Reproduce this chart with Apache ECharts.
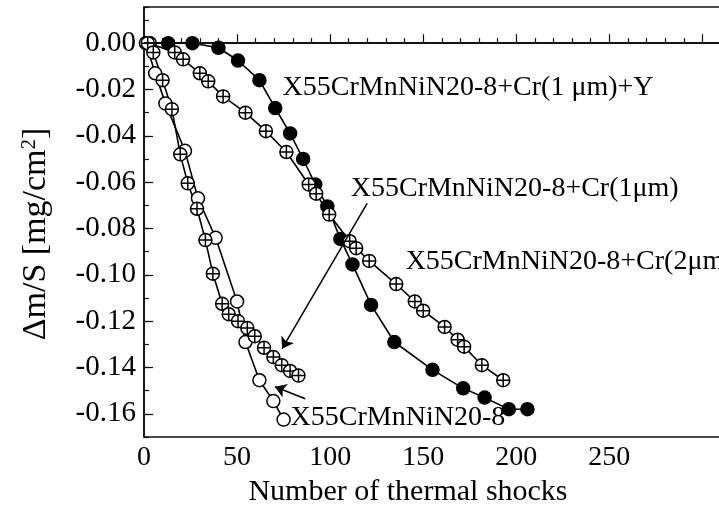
<!DOCTYPE html>
<html lang="en">
<head>
    <meta charset="UTF-8">
    <title>thermal shocks</title>
    <script type="text/javascript" src="https://cdn.jsdelivr.net/npm/echarts@6/dist/echarts.min.js"></script>
    <style>
        html, body { margin: 0; padding: 0; background: #fff; }
        #main { width: 719px; height: 514px; }
    </style>
</head>
<body>
<div id="main"></div>
<script type="text/javascript">
    // Cr(1 um)+Y coating - filled circles
    var crYX = [3, 13, 26, 40, 50.5, 62, 70.5, 78.5, 85.5, 92, 98.5, 105.5, 112, 122, 134.5, 155, 171.5, 183, 196, 206];
    var crYY = [0, 0, 0, -0.002, -0.0075, -0.016, -0.028, -0.039, -0.050, -0.061, -0.0705, -0.0845, -0.0955, -0.113, -0.129, -0.141, -0.149, -0.153, -0.158, -0.158];
    // Cr(2 um) coating - crossed circles
    var cr2X = [3, 16.5, 21, 30, 34.5, 42.5, 54.5, 65.5, 76.5, 88.5, 92.5, 99.5, 110.5, 114, 121, 135.5, 145.5, 150, 161.5, 168.5, 172, 181.5, 193];
    var cr2Y = [0, -0.004, -0.007, -0.013, -0.0165, -0.023, -0.030, -0.038, -0.047, -0.061, -0.065, -0.074, -0.0855, -0.0885, -0.094, -0.104, -0.1115, -0.1155, -0.1225, -0.128, -0.131, -0.139, -0.1455];
    // Cr(1 um) coating - crossed circles
    var cr1X = [2, 5, 10, 15, 19.5, 23.5, 28.5, 33, 37, 42, 45.5, 50.5, 55.5, 59.5, 64.5, 69.5, 74, 78.5, 83];
    var cr1Y = [0, -0.004, -0.016, -0.0285, -0.048, -0.0605, -0.0715, -0.085, -0.0995, -0.1125, -0.117, -0.12, -0.123, -0.1265, -0.1315, -0.1355, -0.139, -0.1415, -0.1435];
    // uncoated steel - open circles
    var bareX = [1, 6, 11.5, 22, 29, 38.5, 50, 54.5, 62, 69.5, 75];
    var bareY = [0, -0.013, -0.026, -0.0465, -0.067, -0.084, -0.1115, -0.129, -0.1455, -0.1545, -0.1625];

    var yTicks = [0, -0.02, -0.04, -0.06, -0.08, -0.10, -0.12, -0.14, -0.16];

    // annotation texts and their anchors (data coords, left edge / middle)
    var noteText = ['X55CrMnNiN20-8+Cr(1 \u03bcm)+Y', 'X55CrMnNiN20-8+Cr(1\u03bcm)', 'X55CrMnNiN20-8+Cr(2\u03bcm)', 'X55CrMnNiN20-8'];
    var noteX = [74.2, 110.8, 140.3, 78.5];
    var noteY = [-0.019, -0.0627, -0.0943, -0.1617];
    // arrows: start -> tip
    var arrowFrom = [[119.9, -0.0692], [86.6, -0.1535]];
    var arrowTo = [[74.2, -0.1319], [70.4, -0.1483]];

    function pairs(xs, ys) {
        var out = [];
        for (var i = 0; i < xs.length; i++) { out.push([xs[i], ys[i]]); }
        return out;
    }

    var serif = 'Liberation Serif';
    var crossCircle = 'path://M0,-10A10,10,0,1,1,0,10A10,10,0,1,1,0,-10ZM-10,0L10,0M0,-10L0,10';

    var notes = [];
    for (var i = 0; i < noteText.length; i++) {
        notes.push({value: [noteX[i], noteY[i]], name: noteText[i]});
    }
    var arrows = [];
    for (var j = 0; j < arrowFrom.length; j++) {
        arrows.push({coords: [arrowFrom[j], arrowTo[j]]});
    }

    function lineSeries(name, data, symbol, fill) {
        return {
            name: name,
            type: 'line',
            data: data,
            symbol: symbol,
            symbolSize: 13,
            showAllSymbol: true,
            lineStyle: {color: '#000', width: 1.6},
            itemStyle: {color: fill, borderColor: '#000', borderWidth: 1.5},
            z: 3
        };
    }

    var option = {
        animation: false,
        backgroundColor: '#fff',
        grid: {left: 144, top: 7, width: 577, bottom: 77, outerBoundsMode: 'none',
            show: true, borderColor: '#111', borderWidth: 1.6},
        xAxis: {
            type: 'value', min: 0, max: 310, interval: 50,
            name: 'Number of thermal shocks', nameLocation: 'middle', nameGap: 38,
            nameTextStyle: {fontFamily: serif, fontSize: 30, color: '#000', padding: [0, 49, 0, 0]},
            axisLine: {lineStyle: {color: '#111', width: 1.6}},
            axisTick: {inside: true, length: 9, lineStyle: {color: '#111', width: 1.2}},
            minorTick: {show: true, splitNumber: 5, length: 5, lineStyle: {color: '#111', width: 1.2}},
            axisLabel: {fontFamily: serif, fontSize: 28, color: '#000', margin: 7,
                formatter: function (v) { return v > 250 ? '' : String(v); }},
            splitLine: {show: false}
        },
        yAxis: [{
            type: 'value', min: -0.17, max: 0.0156, position: 'left',
            name: '\u0394m/S [mg/cm{s|2}]', nameLocation: 'middle', nameGap: 90, nameRotate: 90,
            nameTextStyle: {fontFamily: serif, fontSize: 34, color: '#000', padding: [0, 24, 0, 0],
                rich: {s: {fontFamily: serif, fontSize: 21, color: '#000', verticalAlign: 'top', padding: [0, 0, 14, 0]}}},
            axisLine: {show: true, lineStyle: {color: '#111', width: 1.6}},
            axisTick: {inside: true, length: 9, customValues: yTicks, lineStyle: {color: '#111', width: 1.2}},
            axisLabel: {customValues: yTicks, fontFamily: serif, fontSize: 29, color: '#000', margin: 8,
                formatter: function (v) { return v.toFixed(2); }},
            splitLine: {show: false}
        }, {
            type: 'value', min: -0.17, max: 0.0156, interval: 0.01, position: 'left',
            axisLine: {show: false},
            axisTick: {inside: true, length: 5, lineStyle: {color: '#111', width: 1.2}},
            axisLabel: {show: false},
            splitLine: {show: false}
        }],
        series: [
            lineSeries('X55CrMnNiN20-8+Cr(1 \u03bcm)+Y', pairs(crYX, crYY), 'circle', '#000'),
            lineSeries('X55CrMnNiN20-8+Cr(2\u03bcm)', pairs(cr2X, cr2Y), crossCircle, '#fff'),
            lineSeries('X55CrMnNiN20-8', pairs(bareX, bareY), 'circle', '#fff'),
            lineSeries('X55CrMnNiN20-8+Cr(1\u03bcm)', pairs(cr1X, cr1Y), crossCircle, '#fff'),
            {
                type: 'line', data: [], silent: true,
                markLine: {
                    silent: true, symbol: 'none', label: {show: false},
                    lineStyle: {color: '#000', width: 1.5, type: 'solid'},
                    data: [{yAxis: 0}]
                }
            },
            {
                type: 'lines', coordinateSystem: 'cartesian2d', data: arrows,
                symbol: ['none', 'arrow'], symbolSize: 11,
                lineStyle: {color: '#000', width: 1.5, opacity: 1}, z: 4
            },
            {
                type: 'scatter', data: notes, symbolSize: 1,
                itemStyle: {color: 'rgba(0,0,0,0)', opacity: 1},
                label: {show: true, position: 'right', distance: 0, formatter: '{b}',
                    fontFamily: serif, fontSize: 28, color: '#000', opacity: 1},
                z: 5
            }
        ]
    };

    var myChart = echarts.init(document.getElementById('main'));
    myChart.setOption(option);
</script>
</body>
</html>
